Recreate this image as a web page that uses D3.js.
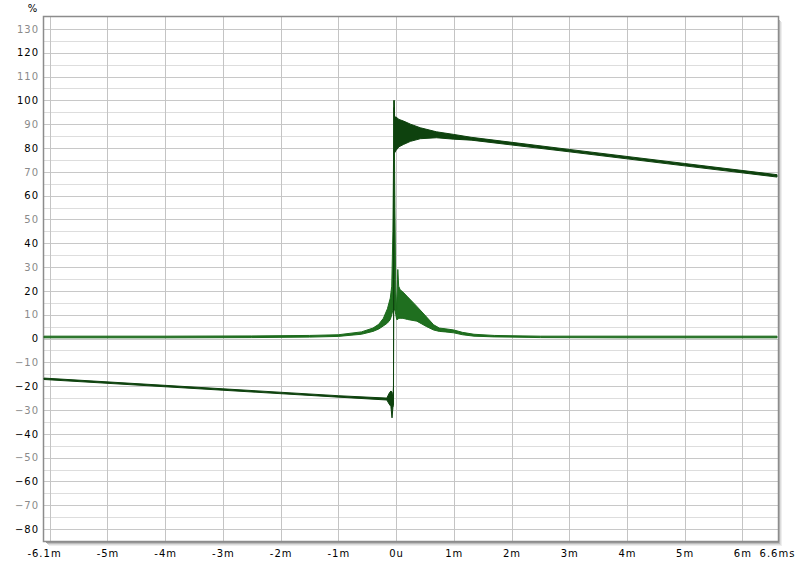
<!DOCTYPE html>
<html><head><meta charset="utf-8">
<script src="https://cdn.jsdelivr.net/npm/d3@7"></script>
<style>
html,body{margin:0;padding:0;background:#fff;}
text{font-family:"DejaVu Sans",Verdana,sans-serif;font-size:10px;letter-spacing:1px;}
</style></head>
<body>
<svg id="chart" width="800" height="567"></svg>
<script>
// ---- data (time in ms, value in %) ----
const xTickValues = [-6.1, -5, -4, -3, -2, -1, 0, 1, 2, 3, 4, 5, 6, 6.6];
const xTickLabels = ["-6.1m", "-5m", "-4m", "-3m", "-2m", "-1m", "0u", "1m", "2m", "3m", "4m", "5m", "6m", "6.6ms"];
const xGridValues = [-6, -5, -4, -3, -2, -1, 0, 1, 2, 3, 4, 5, 6];
const yTickValues = [130, 120, 110, 100, 90, 80, 70, 60, 50, 40, 30, 20, 10, 0, -10, -20, -30, -40, -50, -60, -70, -80];

// impulse response (upper / lower envelope of the trace)
const impT  = [-6.1, -4, -2.5, -1.5, -1.0, -0.6, -0.4, -0.3, -0.22, -0.15, -0.1, -0.075, -0.055, -0.035, -0.02, -0.005, 0.01, 0.03, 0.045, 0.07, 0.12, 0.2, 0.36, 0.53, 0.65, 0.75, 0.85, 1.0, 1.15, 1.35, 1.7, 2.5, 4, 6.6];
const impHi = [1.0, 1.0, 1.1, 1.3, 1.6, 2.8, 4.4, 6.0, 8.5, 12.5, 17, 22, 45, 100, 55, 20, 12, 29, 22, 20.5, 19.5, 17.5, 13.5, 9.0, 5.8, 4.4, 4.1, 3.6, 2.6, 1.8, 1.3, 1.0, 1.0, 1.0];
const impLo = [0.3, 0.3, 0.4, 0.6, 0.9, 1.8, 3.0, 4.0, 5.3, 6.5, 8, 10, 12, 12, 12, 10, 8, 8, 8.5, 8.5, 8.5, 8.0, 7.3, 5.0, 3.6, 3.0, 2.8, 2.4, 1.6, 1.0, 0.7, 0.4, 0.3, 0.3];

// step response (upper / lower envelope of the trace)
const stepT  = [-6.1, -3, -1, -0.16, -0.12, -0.09, -0.07, -0.055, -0.045, -0.035, -0.025, 0.0, 0.05, 0.13, 0.25, 0.42, 0.7, 1.0, 1.3, 3, 5, 6.6];
const stepHi = [-16.6, -21.1, -24.0, -25.0, -23, -22, -22.5, -25, -20, 100, 93, 93, 92, 91.3, 90, 88.5, 86.8, 85.7, 84.5, 79.4, 73.5, 68.8];
const stepLo = [-17.2, -21.7, -24.6, -25.8, -27.5, -28.5, -33.3, -29, -28, 97, 78, 79, 80.5, 81.5, 82.8, 83.9, 84.3, 83.7, 83.3, 78.4, 72.5, 67.8];

// ---- layout ----
const L = 44, R = 777, T = 17, B = 541;
const svg = d3.select("#chart");
const x = d3.scaleLinear().domain([-6.1, 6.6]).range([L, R]);
const y = d3.scaleLinear().domain([-85, 135]).range([B, T]);

// frame shadow
const sh = ["#9a9a9a", "#bdbdbd", "#dcdcdc", "#eeeeee"];
sh.forEach((c, i) => {
  svg.append("line").attr("x1", R + 1 + i + 0.5).attr("x2", R + 1 + i + 0.5)
    .attr("y1", T + 2 + i).attr("y2", B + 1 + i + 1).attr("stroke", c);
  svg.append("line").attr("x1", L + 2 + i).attr("x2", R + 1 + i + 1)
    .attr("y1", B + 1 + i + 0.5).attr("y2", B + 1 + i + 0.5).attr("stroke", c);
});
svg.append("rect").attr("x", L).attr("y", T).attr("width", R - L + 1).attr("height", B - T)
  .attr("fill", "#fff");

// horizontal grid (every 5%)
const yGrid = d3.range(-80, 135, 5);
svg.append("g").selectAll("line").data(yGrid).join("line")
  .attr("x1", L).attr("x2", R + 1)
  .attr("y1", d => Math.round(y(d)) + 0.5).attr("y2", d => Math.round(y(d)) + 0.5)
  .attr("stroke", d => d % 10 === 0 ? "#c8c8c8" : "#dddddd").attr("stroke-width", 1);

// vertical grid
svg.append("g").selectAll("line").data(xGridValues).join("line")
  .attr("x1", d => Math.round(x(d)) + 0.5).attr("x2", d => Math.round(x(d)) + 0.5)
  .attr("y1", T).attr("y2", B)
  .attr("stroke", "#c4c4c4").attr("stroke-width", 1);

// frame border
svg.append("rect").attr("x", L - 0.5).attr("y", T - 0.5).attr("width", R - L + 2).attr("height", B - T + 1)
  .attr("fill", "none").attr("stroke", "#8c8c8c").attr("stroke-width", 1.5);

// traces
const area = d3.area().x(d => x(d.t)).y0(d => y(d.lo)).y1(d => y(d.hi));
const impData = impT.map((t, i) => ({t, hi: impHi[i], lo: impLo[i]}));
const stepData = stepT.map((t, i) => ({t, hi: stepHi[i], lo: stepLo[i]}));
const plot = svg.append("g");
plot.append("path").datum(impData).attr("d", area)
  .attr("fill", "#1f6f1f").attr("stroke", "#1c6a1c").attr("stroke-width", 1).attr("stroke-linejoin", "round");
plot.append("path").datum(stepData).attr("d", area)
  .attr("fill", "#0e420e").attr("stroke", "#0e420e").attr("stroke-width", 1).attr("stroke-linejoin", "round");

// y axis labels
const yAxis = d3.axisLeft(y).tickValues(yTickValues).tickSize(0).tickPadding(0).tickFormat(d3.format("d"));
const gy = svg.append("g").attr("transform", `translate(${L - 5},0)`).call(yAxis);
gy.select(".domain").remove();
gy.selectAll("text").attr("fill", d => d % 20 === 0 ? "#000" : "#8a8a8a")
  .style("font-family", "DejaVu Sans").style("font-size", "10px");

// x axis labels
const xAxis = d3.axisBottom(x).tickValues(xTickValues).tickSize(0).tickPadding(0)
  .tickFormat((d, i) => xTickLabels[i]);
const gx = svg.append("g").attr("transform", `translate(0,${B + 9})`).call(xAxis);
gx.select(".domain").remove();
gx.selectAll("text").attr("fill", "#000")
  .style("font-family", "DejaVu Sans").style("font-size", "10px");

// unit label
svg.append("text").attr("x", 33).attr("y", 12).attr("text-anchor", "middle")
  .attr("fill", "#000").text("%");
</script>
</body></html>
